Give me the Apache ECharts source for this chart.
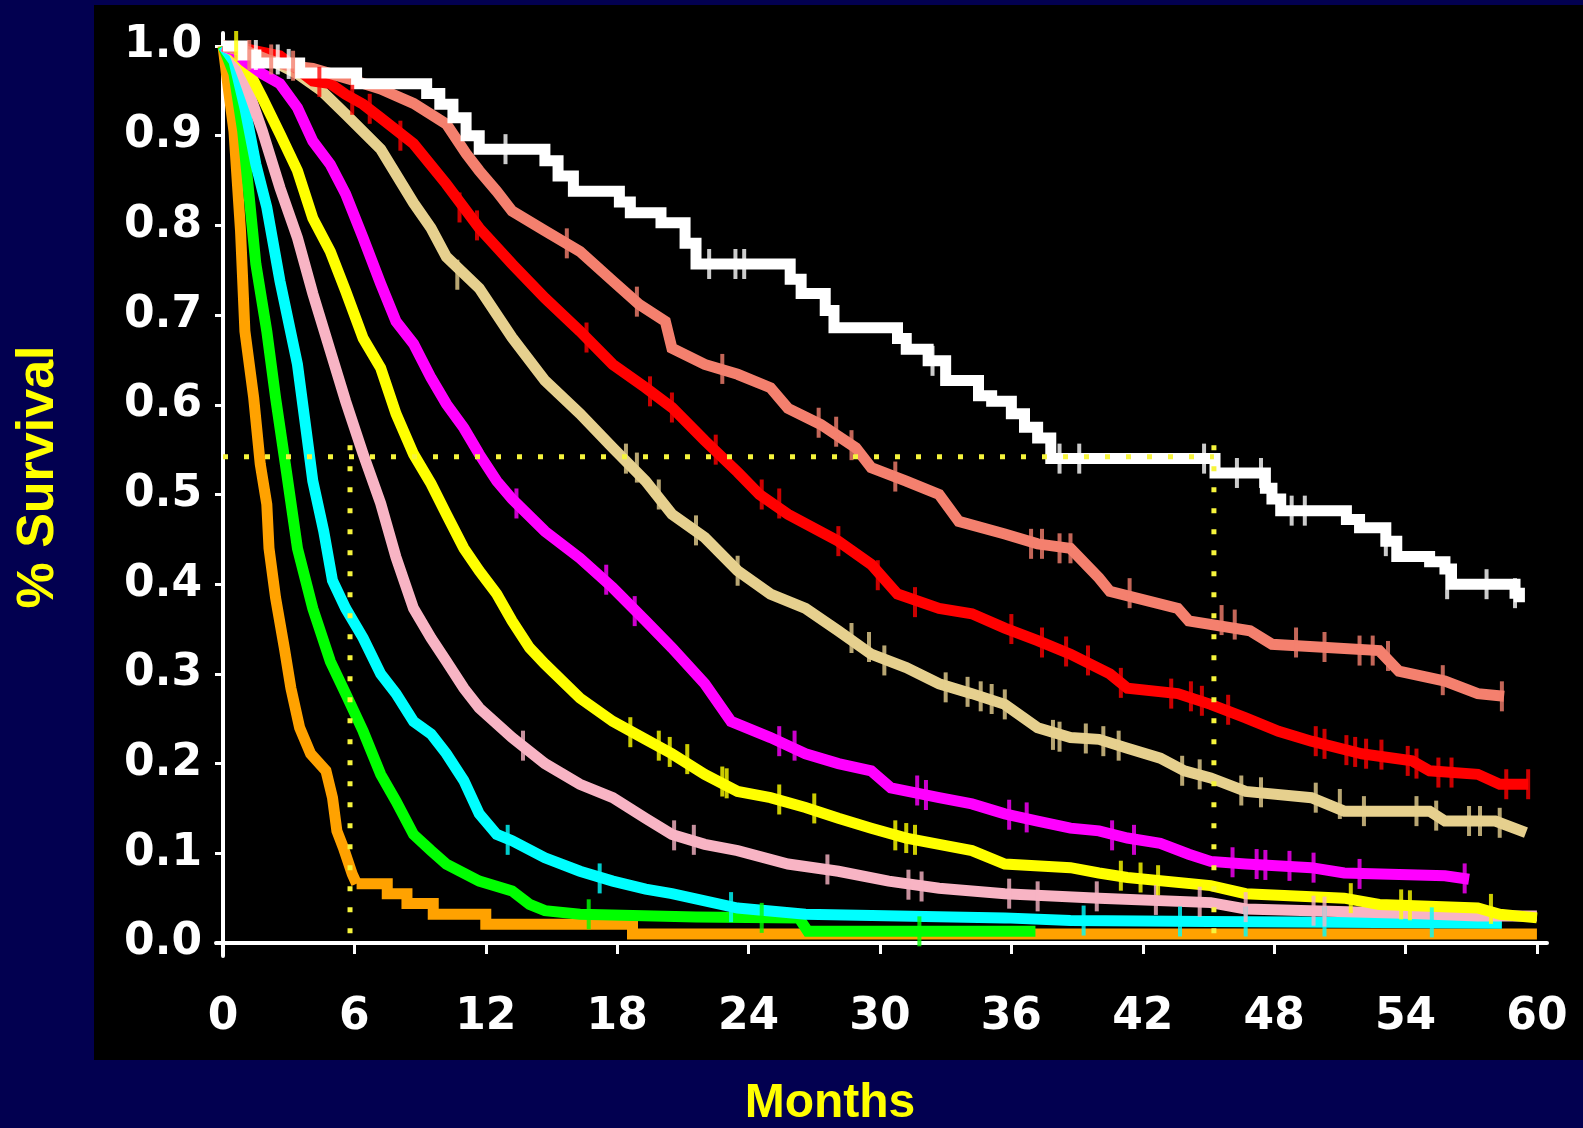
<!DOCTYPE html>
<html>
<head>
<meta charset="utf-8">
<script src="https://cdn.jsdelivr.net/npm/echarts@6/dist/echarts.min.js"></script>
<style>
html,body{margin:0;padding:0;background:#020050;}
#chart{width:1583px;height:1128px;}
</style>
</head>
<body>
<div id="chart"></div>
<script>
// ---------- tick labels ----------
var monthTicks = [0, 6, 12, 18, 24, 30, 36, 42, 48, 54, 60];
var survTicks = [0, 0.1, 0.2, 0.3, 0.4, 0.5, 0.6, 0.7, 0.8, 0.9, 1.0];
var xTitle = 'Months';
var yTitle = '% Survival';

// ---------- survival curves [month, survival] ----------
var whiteCurve = [[0,1.0],[0.9,0.99],[1.5,0.981],[3.5,0.97],[6.1,0.958],[9.3,0.947],[9.9,0.935],[10.5,0.92],[11.1,0.90],[11.7,0.885],[14.7,0.872],[15.3,0.855],[16.0,0.838],[18.1,0.826],[18.6,0.814],[20.0,0.803],[21.1,0.78],[21.6,0.757],[25.9,0.74],[26.4,0.724],[27.5,0.705],[27.9,0.686],[30.8,0.674],[31.2,0.662],[32.2,0.649],[33.0,0.627],[34.5,0.61],[35.1,0.604],[36.0,0.59],[36.6,0.575],[37.2,0.563],[37.8,0.54],[45.3,0.524],[47.6,0.507],[47.9,0.495],[48.3,0.482],[51.3,0.472],[51.9,0.463],[53.1,0.448],[53.6,0.431],[55.1,0.425],[55.8,0.417],[56.1,0.40],[59.0,0.39],[59.2,0.38]];
var salmonCurve = [[0,1.0],[1,0.995],[2,0.985],[3,0.978],[4.1,0.975],[5.9,0.962],[7.2,0.952],[8.7,0.936],[10.2,0.913],[11.1,0.88],[11.7,0.861],[12.5,0.838],[13.2,0.816],[14.7,0.794],[16.3,0.771],[17.8,0.738],[19.0,0.712],[20.2,0.693],[20.5,0.663],[22.0,0.645],[23.5,0.634],[25.0,0.619],[25.8,0.596],[27.3,0.578],[28.9,0.552],[29.6,0.53],[31.2,0.515],[32.7,0.5],[33.6,0.47],[35.7,0.456],[37.2,0.445],[38.7,0.44],[40.0,0.407],[40.5,0.392],[43.6,0.373],[44.1,0.359],[46.9,0.348],[47.9,0.333],[52.8,0.326],[53.7,0.303],[55.8,0.292],[57.3,0.278],[58.5,0.275]];
var redCurve = [[0,1.0],[1,0.997],[2.6,0.989],[4.1,0.961],[4.9,0.958],[5.6,0.946],[6.4,0.935],[7.2,0.92],[8.7,0.891],[10.2,0.846],[11.7,0.797],[13.2,0.757],[14.7,0.719],[16.3,0.682],[17.8,0.645],[19.3,0.619],[20.5,0.597],[22.0,0.56],[23.5,0.525],[24.5,0.50],[25.8,0.478],[28.1,0.448],[29.6,0.422],[30.8,0.389],[32.7,0.373],[34.2,0.367],[35.7,0.351],[37.2,0.337],[38.7,0.322],[40.5,0.30],[41.3,0.284],[43.6,0.278],[45.1,0.266],[46.7,0.251],[48.2,0.236],[49.7,0.225],[52.0,0.211],[54.3,0.203],[55.1,0.192],[57.3,0.188],[58.3,0.177],[59.6,0.177]];
var tanCurve = [[0,1.0],[1.8,0.989],[3.4,0.969],[4.5,0.95],[5.6,0.924],[7.2,0.885],[8.7,0.825],[9.5,0.797],[10.2,0.765],[11.7,0.73],[13.2,0.675],[14.7,0.627],[16.3,0.59],[17.8,0.552],[19.3,0.515],[20.5,0.478],[22.0,0.452],[23.5,0.415],[25.0,0.389],[26.6,0.373],[28.1,0.348],[29.6,0.322],[31.2,0.307],[32.7,0.289],[34.2,0.278],[35.7,0.266],[37.2,0.24],[38.7,0.229],[40.0,0.227],[41.3,0.217],[42.8,0.206],[43.9,0.192],[45.1,0.184],[46.7,0.169],[49.7,0.162],[51.2,0.147],[55.1,0.147],[55.8,0.136],[58.1,0.136],[59.5,0.123]];
var magentaCurve = [[0,1.0],[0.5,0.995],[1.0,0.983],[1.8,0.969],[2.6,0.958],[3.4,0.931],[4.1,0.894],[4.9,0.868],[5.6,0.835],[6.4,0.786],[7.2,0.735],[7.9,0.693],[8.7,0.668],[9.5,0.63],[10.2,0.601],[11.0,0.574],[11.7,0.545],[12.5,0.515],[13.2,0.495],[14.7,0.459],[16.3,0.429],[17.8,0.396],[19.3,0.359],[20.5,0.329],[22.0,0.289],[23.2,0.247],[25.0,0.229],[26.6,0.211],[28.1,0.20],[29.6,0.192],[30.5,0.173],[32.7,0.162],[34.2,0.155],[35.7,0.144],[37.2,0.136],[38.7,0.128],[40.0,0.125],[41.3,0.117],[42.8,0.111],[44.1,0.099],[45.1,0.091],[46.7,0.088],[49.7,0.084],[51.2,0.078],[55.8,0.075],[56.9,0.071]];
var yellowCurve = [[0,1.0],[0.3,0.998],[1.0,0.98],[1.8,0.942],[2.6,0.902],[3.4,0.861],[4.1,0.808],[4.9,0.771],[5.6,0.727],[6.4,0.674],[7.2,0.641],[7.9,0.59],[8.7,0.545],[9.5,0.512],[10.2,0.478],[11.0,0.44],[11.7,0.415],[12.5,0.389],[13.2,0.359],[14.0,0.329],[14.7,0.311],[16.3,0.273],[17.8,0.247],[19.3,0.227],[20.5,0.211],[22.0,0.188],[23.5,0.169],[25.0,0.162],[26.6,0.151],[28.1,0.139],[29.6,0.128],[31.2,0.117],[32.7,0.11],[34.2,0.103],[35.7,0.088],[38.7,0.084],[40.0,0.078],[41.3,0.073],[45.1,0.064],[46.7,0.055],[51.2,0.05],[52.8,0.043],[57.3,0.039],[58.3,0.032],[60.0,0.028]];
var pinkCurve = [[0,1.0],[0.5,0.994],[1.0,0.961],[1.8,0.905],[2.6,0.842],[3.4,0.786],[4.1,0.724],[4.9,0.66],[5.6,0.604],[6.4,0.545],[7.2,0.49],[7.9,0.43],[8.7,0.373],[9.5,0.34],[10.2,0.314],[11.0,0.284],[11.7,0.262],[13.2,0.229],[14.7,0.20],[16.3,0.177],[17.8,0.162],[19.3,0.139],[20.5,0.121],[22.0,0.11],[23.5,0.103],[25.8,0.088],[28.1,0.08],[30.4,0.069],[32.7,0.061],[34.2,0.058],[35.7,0.055],[40.0,0.05],[45.1,0.045],[46.7,0.038],[54.3,0.033],[57.3,0.03],[60.0,0.03]];
var cyanCurve = [[0,1.0],[0.5,0.983],[1.0,0.931],[1.5,0.868],[2.0,0.82],[2.6,0.738],[3.4,0.645],[3.8,0.571],[4.1,0.515],[4.6,0.459],[5.0,0.404],[5.6,0.373],[6.4,0.34],[7.2,0.30],[7.9,0.278],[8.7,0.247],[9.5,0.233],[10.2,0.211],[11.0,0.181],[11.7,0.144],[12.5,0.121],[13.2,0.114],[14.7,0.095],[16.3,0.08],[17.8,0.069],[19.3,0.06],[20.5,0.055],[23.5,0.039],[26.6,0.032],[35.7,0.028],[38.7,0.025],[45.0,0.024],[58.4,0.022]];
var greenCurve = [[0,1.0],[0.5,0.969],[0.9,0.905],[1.2,0.831],[1.5,0.757],[2.0,0.682],[2.4,0.608],[2.9,0.525],[3.4,0.44],[4.1,0.373],[4.9,0.314],[5.6,0.278],[6.4,0.236],[7.2,0.188],[7.9,0.158],[8.7,0.121],[9.5,0.103],[10.2,0.088],[11.7,0.069],[13.2,0.058],[14.0,0.043],[14.7,0.036],[16.3,0.032],[21.6,0.029],[26.3,0.028],[26.7,0.013],[37.1,0.013]];
// orange: steep early part (dense events) and stepped tail
var orangeEarly = [[0,1.0],[0.2,0.961],[0.5,0.905],[0.8,0.794],[1.0,0.682],[1.4,0.608],[1.7,0.534],[2.0,0.489],[2.1,0.44],[2.4,0.385],[2.8,0.329],[3.1,0.284],[3.5,0.24],[4.0,0.211],[4.7,0.192],[5.0,0.162],[5.2,0.125],[5.5,0.106],[5.9,0.077],[6.1,0.066]];
var orangeTail = [[6.1,0.066],[7.5,0.055],[8.4,0.044],[9.6,0.032],[12.0,0.021],[18.7,0.01],[60.0,0.01]];

// ---------- censoring marks [month, survival] ----------
var whiteCensor = [[1.5,0.99],[2.5,0.985],[3.0,0.98],[12.9,0.885],[22.2,0.757],[23.4,0.757],[23.8,0.757],[32.4,0.649],[38.2,0.54],[39.1,0.54],[44.8,0.54],[46.3,0.524],[47.4,0.524],[48.8,0.482],[49.4,0.482],[53.1,0.448],[55.9,0.40],[57.7,0.40],[59.0,0.39]];
var salmonCensor = [[1.2,0.99],[2.2,0.985],[3.2,0.978],[15.7,0.78],[18.9,0.715],[22.8,0.64],[27.2,0.58],[28.0,0.57],[28.7,0.555],[30.7,0.52],[36.9,0.445],[37.4,0.445],[38.2,0.44],[38.7,0.44],[41.4,0.39],[45.6,0.36],[46.2,0.355],[49.0,0.335],[50.3,0.33],[51.9,0.326],[52.5,0.326],[53.2,0.32],[55.7,0.293],[58.4,0.275]];
var redCensor = [[4.4,0.96],[5.9,0.94],[6.7,0.93],[8.1,0.9],[10.8,0.82],[11.6,0.8],[16.6,0.675],[19.5,0.615],[20.5,0.597],[22.5,0.55],[24.6,0.5],[25.4,0.49],[28.1,0.448],[29.9,0.41],[31.6,0.38],[36.0,0.35],[37.4,0.335],[38.5,0.325],[39.5,0.315],[41.0,0.29],[43.3,0.278],[44.2,0.275],[44.7,0.27],[45.9,0.26],[49.9,0.225],[50.3,0.222],[51.3,0.215],[51.7,0.213],[52.2,0.211],[52.9,0.21],[54.1,0.203],[54.5,0.2],[55.5,0.19],[56.1,0.19],[58.6,0.177],[59.6,0.177]];
var tanCensor = [[10.7,0.745],[18.4,0.54],[18.9,0.53],[19.9,0.5],[21.6,0.46],[23.5,0.415],[28.7,0.34],[29.5,0.33],[30.2,0.315],[33.0,0.285],[34.0,0.28],[34.6,0.275],[35.1,0.272],[35.7,0.266],[37.9,0.232],[38.2,0.23],[39.4,0.228],[40.2,0.225],[40.9,0.22],[43.8,0.192],[44.6,0.188],[46.5,0.17],[47.4,0.168],[49.9,0.162],[51.0,0.155],[52.1,0.147],[54.5,0.147],[55.4,0.142],[56.9,0.136],[57.4,0.136],[58.3,0.134]];
var magentaCensor = [[13.4,0.49],[17.5,0.405],[18.8,0.37],[25.4,0.225],[26.1,0.22],[31.7,0.17],[32.1,0.165],[35.9,0.143],[36.7,0.14],[40.6,0.12],[41.6,0.115],[46.1,0.09],[47.2,0.088],[47.6,0.087],[48.7,0.086],[49.8,0.084],[51.9,0.077],[56.7,0.072]];
var yellowCensor = [[0.6,1.0],[18.6,0.235],[19.9,0.22],[20.4,0.213],[21.2,0.205],[22.8,0.18],[23.0,0.178],[25.4,0.16],[27.0,0.15],[30.7,0.12],[31.2,0.117],[31.6,0.115],[41.0,0.075],[41.9,0.073],[42.7,0.07],[51.5,0.05],[53.8,0.043],[54.2,0.042],[57.9,0.038]];
var pinkCensor = [[13.7,0.22],[20.6,0.12],[21.5,0.115],[27.6,0.082],[31.3,0.065],[31.9,0.063],[35.9,0.055],[37.2,0.052],[39.9,0.052],[42.6,0.048],[44.6,0.046],[46.7,0.04],[49.8,0.036],[50.3,0.035]];
var cyanCensor = [[13.0,0.115],[17.2,0.072],[23.2,0.04],[39.3,0.025],[43.7,0.024],[46.7,0.024],[50.3,0.024],[55.2,0.023]];
var greenCensor = [[16.7,0.032],[24.6,0.028],[31.8,0.013]];

// ---------- reference (dotted) lines ----------
var refHorizontal = [[0,0.542],[45.25,0.542]];
var refVertical6 = [[5.8,0.555],[5.8,0.007]];
var refVertical45 = [[45.25,0.555],[45.25,0.007]];

var groups = [
  {name:'orange', color:'#ffa200', curve:orangeEarly, censor:[], step:false},
  {name:'orange tail', color:'#ffa200', curve:orangeTail, censor:[], step:'end'},
  {name:'green', color:'#00ff00', curve:greenCurve, censor:greenCensor, step:false},
  {name:'cyan', color:'#00ffff', curve:cyanCurve, censor:cyanCensor, step:false},
  {name:'pink', color:'#f8b4c4', curve:pinkCurve, censor:pinkCensor, step:false},
  {name:'yellow', color:'#ffff00', curve:yellowCurve, censor:yellowCensor, step:false},
  {name:'magenta', color:'#ff00ff', curve:magentaCurve, censor:magentaCensor, step:false},
  {name:'tan', color:'#e6d08e', curve:tanCurve, censor:tanCensor, step:false},
  {name:'red', color:'#ff0000', curve:redCurve, censor:redCensor, step:false},
  {name:'salmon', color:'#f4806e', curve:salmonCurve, censor:salmonCensor, step:false},
  {name:'white', color:'#ffffff', curve:whiteCurve, censor:whiteCensor, step:'end'}
];

var series = [];
groups.forEach(function (g, i) {
  series.push({
    name: g.name, type: 'line', data: g.curve, step: g.step,
    showSymbol: false, symbol: 'none', z: 2 + i * 0.01,
    lineStyle: {color: g.color, width: 11, cap: 'butt', join: 'miter'}
  });
  if (g.censor.length) {
    series.push({
      name: g.name + ' censored', type: 'scatter', data: g.censor,
      symbol: 'rect', symbolSize: [4, 30], z: 3,
      itemStyle: {color: g.color}
    });
  }
});
[refHorizontal, refVertical6, refVertical45].forEach(function (d) {
  series.push({
    type: 'line', data: d, showSymbol: false, symbol: 'none', z: 10,
    lineStyle: {color: '#f6f43c', width: 5, type: [5, 16], cap: 'butt'}
  });
});

var chart = echarts.init(document.getElementById('chart'), null, {renderer: 'canvas'});
chart.setOption({
  animation: false,
  backgroundColor: '#020050',
  grid: {left: 216, top: 33, right: 36, bottom: 172, containLabel: false},
  graphic: [
    {type: 'rect', z: -100, shape: {x: 94, y: 5, width: 1489, height: 1055}, style: {fill: '#000000'}},
    {type: 'text', x: 39, y: 477, rotation: Math.PI / 2,
     style: {text: yTitle, fill: '#ffff00', font: 'bold 52px "Liberation Sans", Arial, sans-serif', align: 'center', verticalAlign: 'middle'}},
    {type: 'text', x: 830, y: 1104,
     style: {text: xTitle, fill: '#ffff00', font: 'bold 48px "Liberation Sans", Arial, sans-serif', align: 'center', verticalAlign: 'middle'}}
  ],
  xAxis: {
    type: 'value', min: -0.32, max: 60.46,
    axisLine: {show: true, lineStyle: {color: '#ffffff', width: 4}},
    axisTick: {show: true, customValues: monthTicks, length: 11, lineStyle: {color: '#ffffff', width: 3}},
    axisLabel: {show: true, customValues: monthTicks, margin: 40, color: '#ffffff',
      fontFamily: 'DejaVu Sans', fontWeight: 'bold', fontSize: 44},
    splitLine: {show: false}
  },
  yAxis: {
    type: 'value', min: -0.0145, max: 1.0145,
    axisLine: {show: true, lineStyle: {color: '#ffffff', width: 4}},
    axisTick: {show: true, customValues: survTicks, length: 8, lineStyle: {color: '#ffffff', width: 3}},
    axisLabel: {show: true, customValues: survTicks, margin: 14, color: '#ffffff',
      fontFamily: 'DejaVu Sans', fontWeight: 'bold', fontSize: 44, padding: [10, 0, 0, 0],
      formatter: function (v) { return v.toFixed(1); }},
    splitLine: {show: false}
  },
  series: series
});
</script>
</body>
</html>
